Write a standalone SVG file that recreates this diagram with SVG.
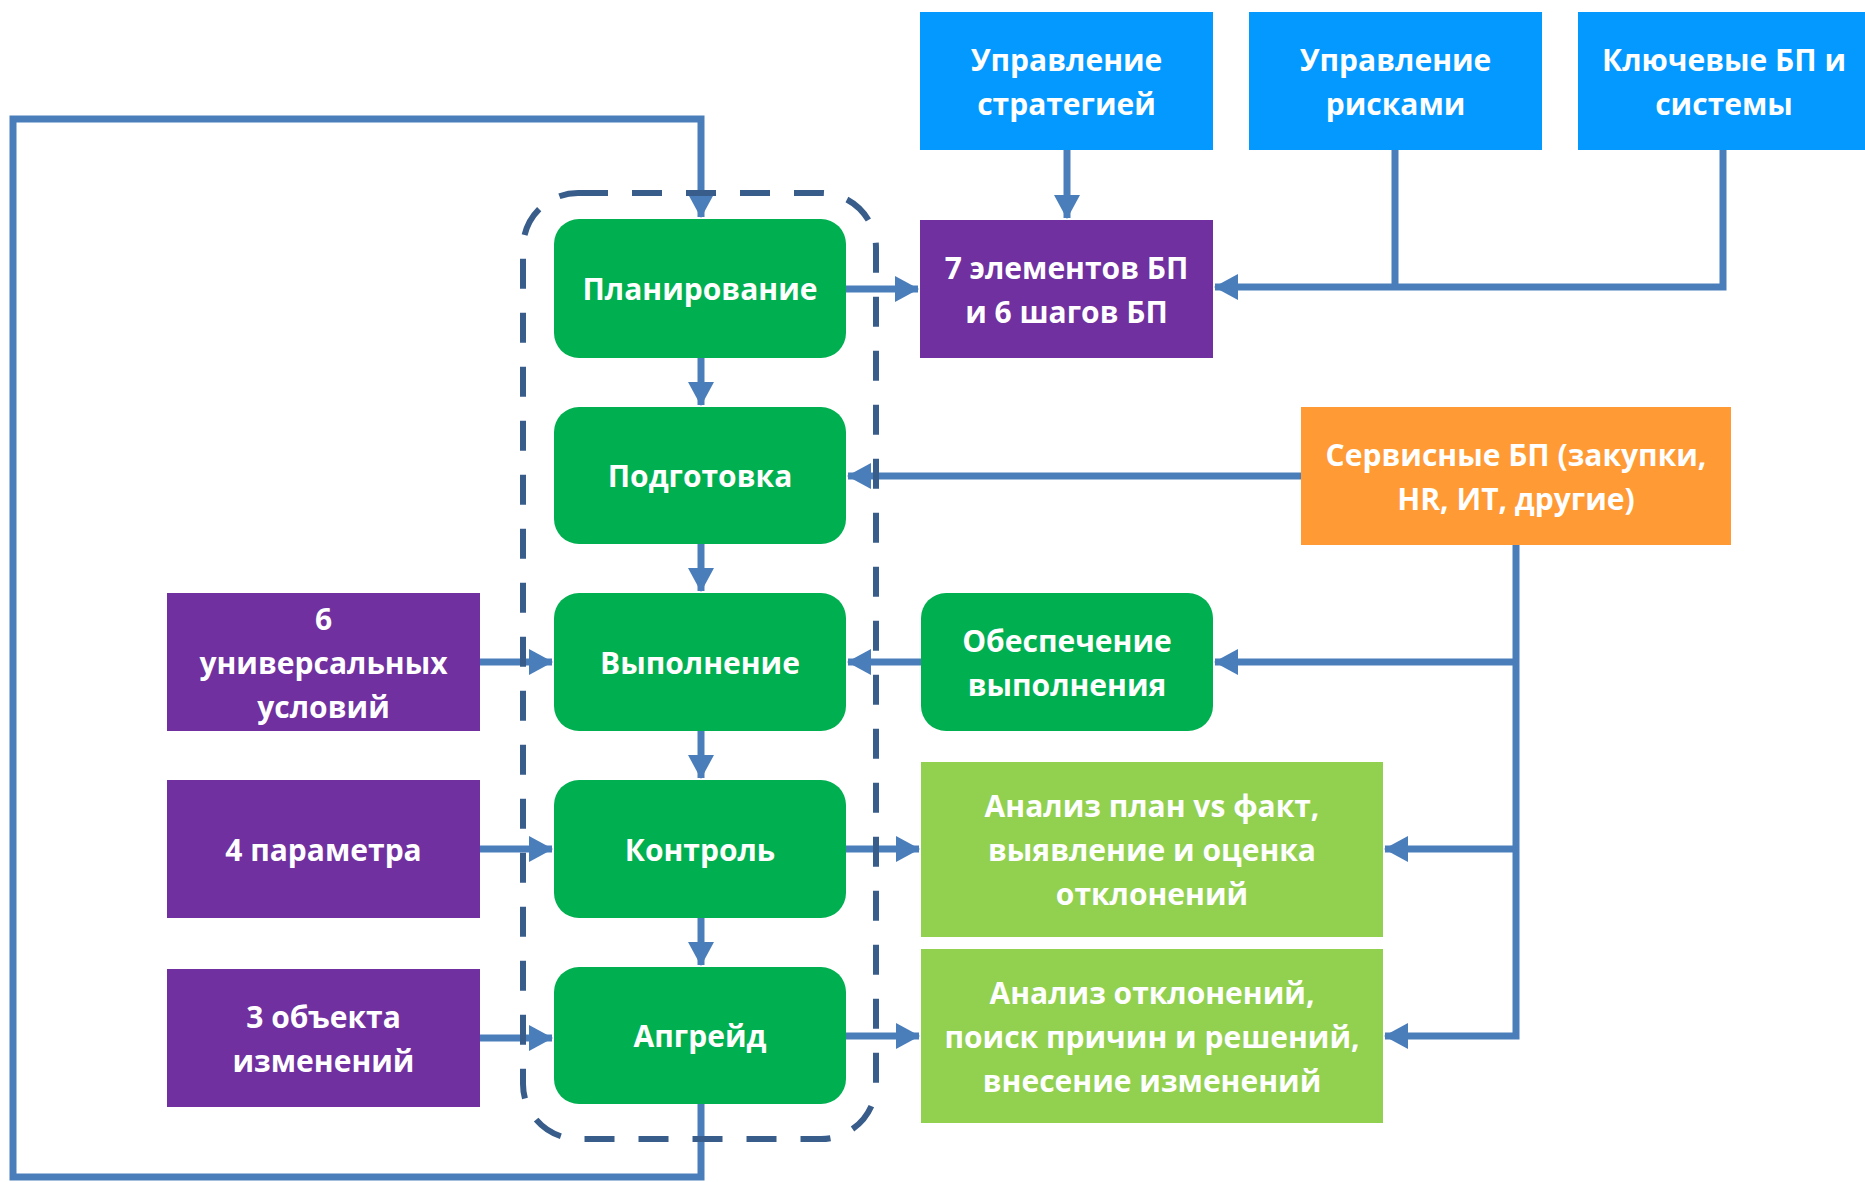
<svg xmlns="http://www.w3.org/2000/svg" width="1865" height="1182" viewBox="0 0 1865 1182">
<defs>
<style>
text{font-family:"Open Sans","Liberation Sans",sans-serif;font-weight:700;font-size:30px;fill:#fff;text-anchor:middle}
.conn{fill:none;stroke:#4A7EBB;stroke-width:7}
.blue{fill:#0399FF}
.purple{fill:#7030A0}
.green{fill:#00B050}
.lgreen{fill:#92D050}
.orange{fill:#FF9A35}
</style>
<marker id="ah" markerUnits="userSpaceOnUse" markerWidth="24" markerHeight="26" refX="23" refY="13" orient="auto">
<path d="M0,0 L24,13 L0,26 Z" fill="#4A7EBB"/>
</marker>
</defs>
<rect width="1865" height="1182" fill="#fff"/>

<g id="connectors">
<path class="conn" d="M701,1104 V1177 H13 V119 H701 V217" marker-end="url(#ah)"/>
<path class="conn" d="M701,358 V405" marker-end="url(#ah)"/>
<path class="conn" d="M701,544 V591" marker-end="url(#ah)"/>
<path class="conn" d="M701,731 V778" marker-end="url(#ah)"/>
<path class="conn" d="M701,918 V965" marker-end="url(#ah)"/>
<path class="conn" d="M846,289 H918" marker-end="url(#ah)"/>
<path class="conn" d="M1067,150 V218" marker-end="url(#ah)"/>
<path class="conn" d="M1395,150 V287"/>
<path class="conn" d="M1723,150 V287 H1215" marker-end="url(#ah)"/>
<path class="conn" d="M1301,476 H848" marker-end="url(#ah)"/>
<path class="conn" d="M1516,545 V1036 H1385" marker-end="url(#ah)"/>
<path class="conn" d="M1516,662 H1215" marker-end="url(#ah)"/>
<path class="conn" d="M1516,849 H1385" marker-end="url(#ah)"/>
<path class="conn" d="M921,662 H848" marker-end="url(#ah)"/>
<path class="conn" d="M480,662 H552" marker-end="url(#ah)"/>
<path class="conn" d="M480,849 H552" marker-end="url(#ah)"/>
<path class="conn" d="M480,1038 H552" marker-end="url(#ah)"/>
<path class="conn" d="M846,849 H919" marker-end="url(#ah)"/>
<path class="conn" d="M846,1036 H919" marker-end="url(#ah)"/>
</g>

<g id="cycle-frame">
<rect x="523" y="193" width="353" height="946" rx="55" fill="none" stroke="#385D8A" stroke-width="6" stroke-dasharray="30 24"/>
</g>

<g id="n-strategy">
<rect class="blue" x="920" y="12" width="293" height="138"/>
<text x="1066.5" y="71">Управление</text>
<text x="1066.5" y="115">стратегией</text>
</g>
<g id="n-risks">
<rect class="blue" x="1249" y="12" width="293" height="138"/>
<text x="1395.5" y="71">Управление</text>
<text x="1395.5" y="115">рисками</text>
</g>
<g id="n-key">
<rect class="blue" x="1578" y="12" width="293" height="138"/>
<text x="1724" y="71">Ключевые БП и</text>
<text x="1724" y="115">системы</text>
</g>
<g id="n-elements">
<rect class="purple" x="920" y="220" width="293" height="138"/>
<text x="1066.5" y="279">7 элементов БП</text>
<text x="1066.5" y="323">и 6 шагов БП</text>
</g>
<g id="n-plan">
<rect class="green" x="554" y="219" width="292" height="139" rx="25"/>
<text x="700" y="300">Планирование</text>
</g>
<g id="n-prep">
<rect class="green" x="554" y="407" width="292" height="137" rx="25"/>
<text x="700" y="487">Подготовка</text>
</g>
<g id="n-exec">
<rect class="green" x="554" y="593" width="292" height="138" rx="25"/>
<text x="700" y="674">Выполнение</text>
</g>
<g id="n-control">
<rect class="green" x="554" y="780" width="292" height="138" rx="25"/>
<text x="700" y="861">Контроль</text>
</g>
<g id="n-upgrade">
<rect class="green" x="554" y="967" width="292" height="137" rx="25"/>
<text x="700" y="1047">Апгрейд</text>
</g>
<g id="n-conditions">
<rect class="purple" x="167" y="593" width="313" height="138"/>
<text x="323.5" y="630">6</text>
<text x="323.5" y="674">универсальных</text>
<text x="323.5" y="718">условий</text>
</g>
<g id="n-params">
<rect class="purple" x="167" y="780" width="313" height="138"/>
<text x="323.5" y="861">4 параметра</text>
</g>
<g id="n-objects">
<rect class="purple" x="167" y="969" width="313" height="138"/>
<text x="323.5" y="1028">3 объекта</text>
<text x="323.5" y="1072">изменений</text>
</g>
<g id="n-service">
<rect class="orange" x="1301" y="407" width="430" height="138"/>
<text x="1516" y="466">Сервисные БП (закупки,</text>
<text x="1516" y="510">HR, ИТ, другие)</text>
</g>
<g id="n-support">
<rect class="green" x="921" y="593" width="292" height="138" rx="25"/>
<text x="1067" y="652">Обеспечение</text>
<text x="1067" y="696">выполнения</text>
</g>
<g id="n-analysis1">
<rect class="lgreen" x="921" y="762" width="462" height="175"/>
<text x="1152" y="817">Анализ план vs факт,</text>
<text x="1152" y="861">выявление и оценка</text>
<text x="1152" y="905">отклонений</text>
</g>
<g id="n-analysis2">
<rect class="lgreen" x="921" y="949" width="462" height="174"/>
<text x="1152" y="1004">Анализ отклонений,</text>
<text x="1152" y="1048">поиск причин и решений,</text>
<text x="1152" y="1092">внесение изменений</text>
</g>
</svg>
